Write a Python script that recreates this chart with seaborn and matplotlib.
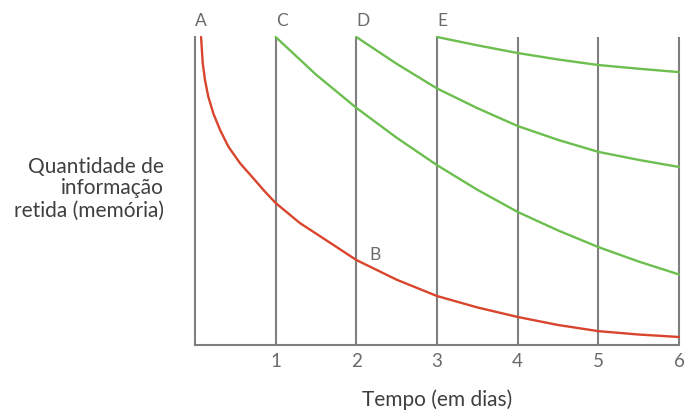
import matplotlib
matplotlib.use("Agg")
import matplotlib.pyplot as plt
import seaborn as sns
import pandas as pd

# ---- data ----
red_x = [0.075, 0.096, 0.124, 0.165, 0.227, 0.311, 0.414, 0.559, 0.724, 0.86, 1.0,
         1.30, 1.68, 2.0, 2.5, 3.0, 3.5, 4.0, 4.5, 5.0, 5.5, 6.0]
red_y = [100, 91.5, 86.0, 80.6, 75.2, 69.8, 64.4, 59.0, 54.1, 50.0, 46.1,
         39.6, 33.1, 27.6, 21.2, 15.9, 12.2, 9.1, 6.5, 4.5, 3.4, 2.6]

c_x = [1, 1.5, 2, 2.5, 3, 3.5, 4, 4.5, 5, 5.5, 6]
c_y = [100, 87.8, 77.0, 67.3, 58.4, 50.4, 43.2, 37.2, 31.8, 27.1, 22.9]

d_x = [2, 2.5, 3, 3.5, 4, 4.5, 5, 5.5, 6]
d_y = [100, 91.3, 83.3, 76.9, 71.1, 66.6, 62.7, 60.1, 57.8]

e_x = [3, 3.5, 4, 4.5, 5, 5.5, 6]
e_y = [100, 97.3, 94.8, 92.7, 90.9, 89.7, 88.6]

day_lines = [1, 2, 3, 4, 5, 6]
tick_labels = ["1", "2", "3", "4", "5", "6"]
top_labels = ["A", "C", "D", "E"]
top_label_x = [0, 1, 2, 3]
b_label = ("B", 2.236, 29.3)

sns.set_theme(style="white")
plt.rcParams["font.family"] = ["Lato", "DejaVu Sans"]

RED = "#d9452c"
GREEN = "#6cbf4f"
GREY = "#7f7f7f"
TXT = "#5a5a5a"

fig = plt.figure(figsize=(6.86, 4.11), dpi=100)
ax = fig.add_axes([195 / 686, 66 / 411, 484 / 686, 308 / 411])

# vertical day lines
ax.vlines(day_lines, 0, 100, colors=GREY, linewidth=1.5, clip_on=False, zorder=1)

df_red = pd.DataFrame({"x": red_x, "y": red_y})
sns.lineplot(data=df_red, x="x", y="y", ax=ax, color=RED, linewidth=1.7,
             sort=False, estimator=None, clip_on=False, zorder=3)
for xs, ys in [(c_x, c_y), (d_x, d_y), (e_x, e_y)]:
    dfg = pd.DataFrame({"x": xs, "y": ys})
    sns.lineplot(data=dfg, x="x", y="y", ax=ax, color=GREEN, linewidth=1.7,
                 sort=False, estimator=None, clip_on=False, zorder=3)

ax.set_xlim(0, 6)
ax.set_ylim(0, 100)

for s in ["top", "right"]:
    ax.spines[s].set_visible(False)
for s in ["left", "bottom"]:
    ax.spines[s].set_color(GREY)
    ax.spines[s].set_linewidth(1.5)

ax.set_xticks(day_lines)
ax.set_xticklabels(tick_labels)
ax.set_yticks([])
ax.tick_params(axis="x", length=0, pad=6, labelsize=13.5, labelcolor="#6a6a6a")

ax.set_xlabel("")
ax.set_ylabel("")

fig.text(437 / 686, 1 - 400 / 411, "Tempo (em dias)", ha="center", va="center",
         fontsize=15, color="#3f3f3f")

for lab, lx in zip(top_labels, top_label_x):
    ax.text(lx, 105.2, lab, ha="left", va="center", fontsize=12.5,
            color="#6a6a6a", clip_on=False)
ax.text(b_label[1], b_label[2], b_label[0], ha="center", va="center",
        fontsize=12.5, color="#6a6a6a")

fig.text(164 / 686, 1 - 188.5 / 411, "Quantidade de\ninformação\nretida (memória)",
         ha="right", va="center", fontsize=15, color="#3f3f3f", linespacing=1.12)

fig.savefig("out.png", dpi=100)
